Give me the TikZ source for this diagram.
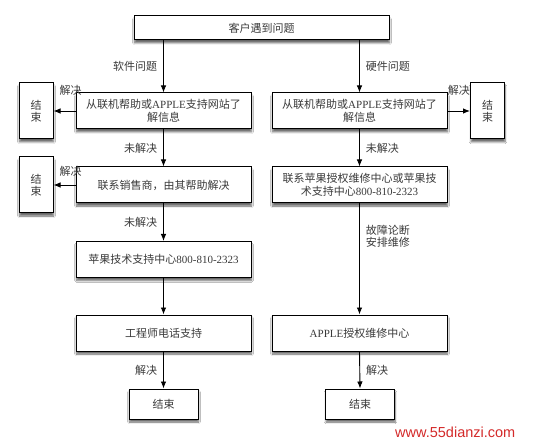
\documentclass[tikz,border=0pt]{standalone}
\usepackage{fontspec}
\setmainfont{Liberation Serif}
\newfontfamily\cjk{Noto Sans CJK SC}
\newfontfamily\wmfont{Liberation Sans}
\usetikzlibrary{arrows.meta,shadows.blur}
\definecolor{txt}{HTML}{3A3A3A}
\definecolor{wmred}{HTML}{D42A2A}
\begin{document}
\begin{tikzpicture}[x=1pt,y=-1pt,
  box/.style={draw=black, line width=1pt, fill=white, text=txt,
    font=\fontsize{11}{13}\selectfont, align=center, inner sep=0pt,
    blur shadow={shadow xshift=0.5pt, shadow yshift=-3pt, shadow blur steps=6, shadow opacity=60}},
  mainbox/.style={box, minimum width=175pt, minimum height=36pt},
  endv/.style={box, minimum width=34pt, minimum height=56pt, font=\cjk\fontsize{11}{12}\selectfont},
  endh/.style={box, minimum width=69pt, minimum height=30pt, font=\cjk\fontsize{11}{13}\selectfont},
  arr/.style={-{Latex[length=7pt,width=5.5pt]}, line width=0.9pt},
  lbl/.style={text=txt, font=\cjk\fontsize{11}{12}\selectfont, inner sep=1pt}
]
\useasboundingbox (0,0) rectangle (548,443);
\fill[white] (0,0) rectangle (548,443);

\node[box, minimum width=255pt, minimum height=24pt, font=\cjk\fontsize{11}{13}\selectfont] (top) at (261.5,28) {客户遇到问题};

\node[mainbox] (L1) at (163.5,111) {{\cjk 从联机帮助或}APPLE{\cjk 支持网站了}\\{\cjk 解信息}};
\node[mainbox] (R1) at (359.5,111) {{\cjk 从联机帮助或}APPLE{\cjk 支持网站了}\\{\cjk 解信息}};
\node[endv] (LE1) at (36,111) {结\\束};
\node[endv] (RE1) at (487.5,111) {结\\束};

\node[mainbox] (L2) at (163.5,185) {{\cjk 联系销售商，由其帮助解决}};
\node[mainbox] (R2) at (359.5,185) {{\cjk 联系苹果授权维修中心或苹果技}\\{\cjk 术支持中心}800-810-2323};
\node[endv] (LE2) at (36,185) {结\\束};

\node[mainbox] (L3) at (163.5,259.5) {{\cjk 苹果技术支持中心}800-810-2323};

\node[mainbox] (L4) at (163.5,333) {{\cjk 工程师电话支持}};
\node[mainbox] (R4) at (359.5,333) {APPLE{\cjk 授权维修中心}};

\node[endh] (LB) at (163.5,404) {结束};
\node[endh] (RB) at (360,404) {结束};

\draw[arr] (top.south -| L1.north) -- node[lbl, left=5pt] {软件问题} (L1.north);
\draw[arr] (top.south -| R1.north) -- node[lbl, right=5pt] {硬件问题} (R1.north);
\draw[arr] (L1.west) -- node[lbl, above=14pt, xshift=6pt] {解决} (LE1.east);
\draw[arr] (R1.east) -- node[lbl, above=14pt] {解决} (RE1.west);
\draw[arr] (L1.south) -- node[lbl, left=5pt] {未解决} (L2.north);
\draw[arr] (R1.south) -- node[lbl, right=5pt] {未解决} (R2.north);
\draw[arr] (L2.west) -- node[lbl, above=7.5pt, xshift=6pt] {解决} (LE2.east);
\draw[arr] (L2.south) -- node[lbl, left=5pt] {未解决} (L3.north);
\draw[arr] (L3.south) -- (L4.north);
\draw[arr] (R2.south) -- node[lbl, right=5pt, pos=0.295, align=left] {故障论断\\安排维修} (R4.north);
\draw[arr] (L4.south) -- node[lbl, left=5pt] {解决} (LB.north);
\draw[arr] (R4.south) -- node[lbl, right=5pt] {解决} (RB.north);

\node[text=wmred, font=\wmfont\fontsize{14.5}{16}\selectfont, anchor=west, inner sep=0pt] (wm) at (395,432) {www.55dianzi.com};
\end{tikzpicture}
\end{document}
